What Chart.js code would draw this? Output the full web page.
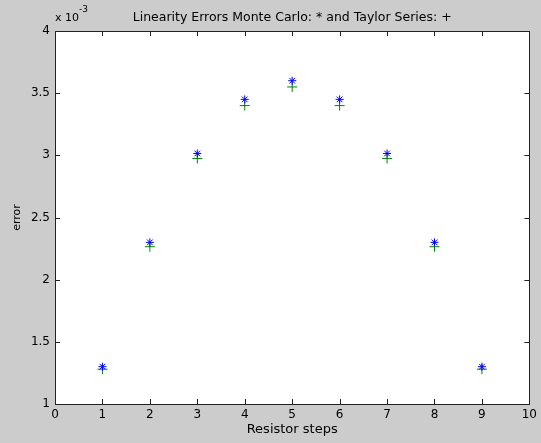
<!DOCTYPE html>
<html>
<head>
<meta charset="utf-8">
<script src="https://cdn.jsdelivr.net/npm/chart.js@4/dist/chart.umd.min.js"></script>
<style>
    html, body { margin: 0; padding: 0; background: #cccccc; }
    #grafico { display: block; }
</style>
</head>
<body>
<canvas id="grafico" width="541" height="443"></canvas>
<script>
// Passos do resistor (eixo x)
const passos = [1, 2, 3, 4, 5, 6, 7, 8, 9];
// Erros em unidades de 10^-3
const monteCarlo = [1.30, 2.30, 3.015, 3.45, 3.60, 3.45, 3.015, 2.30, 1.30];
const taylor = [1.28, 2.265, 2.975, 3.40, 3.55, 3.40, 2.975, 2.265, 1.28];
// Marcas dos eixos
const ticksX = [0, 1, 2, 3, 4, 5, 6, 7, 8, 9, 10];
const ticksY = [1, 1.5, 2, 2.5, 3, 3.5, 4];

const titulo = 'Linearity Errors Monte Carlo: * and Taylor Series: +';
const fonte = '"DejaVu Sans", Verdana, sans-serif';

// Fundo branco, moldura, marcas internas e textos extras
const moldura = {
    id: 'moldura',
    beforeDraw(chart) {
        const { ctx, chartArea: a } = chart;
        ctx.save();
        ctx.fillStyle = '#cccccc';
        ctx.fillRect(0, 0, chart.width, chart.height);
        ctx.fillStyle = '#ffffff';
        ctx.fillRect(a.left, a.top, a.right - a.left, a.bottom - a.top);
        ctx.restore();
    },
    beforeDatasetsDraw(chart) {
        const { ctx, chartArea: a, scales } = chart;
        const tam = 5;
        ctx.save();
        ctx.strokeStyle = '#222222';
        ctx.lineWidth = 1;
        ctx.beginPath();
        ticksX.forEach(v => {
            const x = Math.round(scales.x.getPixelForValue(v)) + 0.5;
            ctx.moveTo(x, a.bottom); ctx.lineTo(x, a.bottom - tam);
            ctx.moveTo(x, a.top); ctx.lineTo(x, a.top + tam);
        });
        ticksY.forEach(v => {
            const y = Math.round(scales.y.getPixelForValue(v)) + 0.5;
            ctx.moveTo(a.left, y); ctx.lineTo(a.left + tam, y);
            ctx.moveTo(a.right, y); ctx.lineTo(a.right - tam, y);
        });
        ctx.stroke();
        ctx.strokeRect(Math.round(a.left) + 0.5, Math.round(a.top) + 0.5,
            Math.round(a.right - a.left), Math.round(a.bottom - a.top));

        // titulo e expoente
        ctx.fillStyle = '#000000';
        ctx.textBaseline = 'alphabetic';
        ctx.textAlign = 'center';
        ctx.font = '12.5px ' + fonte;
        ctx.fillText(titulo, (a.left + a.right) / 2, 21);
        ctx.textAlign = 'left';
        ctx.font = '11px ' + fonte;
        ctx.fillText('x 10', 55, 21);
        ctx.font = '9px ' + fonte;
        ctx.fillText('-3', 79, 12);
        ctx.restore();
    }
};

function criarGrafico() {
    const ctx = document.getElementById('grafico').getContext('2d');
    Chart.defaults.color = '#000000';
    Chart.defaults.font.family = fonte;
    Chart.defaults.font.size = 12;

    window.meuGrafico = new Chart(ctx, {
        type: 'scatter',
        data: {
            datasets: [{
                label: 'Monte Carlo',
                data: passos.map((p, i) => ({ x: p, y: monteCarlo[i] })),
                pointStyle: 'star',
                pointRadius: 4,
                borderColor: '#0000ff',
                backgroundColor: '#0000ff',
                borderWidth: 1
            }, {
                label: 'Taylor Series',
                data: passos.map((p, i) => ({ x: p, y: taylor[i] })),
                pointStyle: 'cross',
                pointRadius: 5,
                borderColor: '#008000',
                backgroundColor: '#008000',
                borderWidth: 1
            }]
        },
        options: {
            responsive: false,
            animation: false,
            devicePixelRatio: 1,
            layout: { padding: { left: 0, right: 10, top: 31, bottom: 0 } },
            plugins: {
                legend: { display: false },
                tooltip: { enabled: false }
            },
            scales: {
                x: {
                    type: 'linear',
                    min: 0,
                    max: 10,
                    afterBuildTicks: s => { s.ticks = ticksX.map(v => ({ value: v })); },
                    afterFit: s => { s.height = 39; },
                    grid: { display: false, drawTicks: false },
                    border: { display: false },
                    ticks: { padding: 4, maxRotation: 0, callback: v => String(v) },
                    title: { display: true, text: 'Resistor steps', font: { size: 13 }, padding: { top: 0, bottom: 6 } }
                },
                y: {
                    type: 'linear',
                    min: 1,
                    max: 4,
                    afterBuildTicks: s => { s.ticks = ticksY.map(v => ({ value: v })); },
                    afterFit: s => { s.width = 55; },
                    grid: { display: false, drawTicks: false },
                    border: { display: false },
                    ticks: { padding: 5, callback: v => String(v) },
                    title: { display: true, text: 'error', font: { size: 11 }, padding: { top: 11, bottom: 0 } }
                }
            }
        },
        plugins: [moldura]
    });
}

window.addEventListener('DOMContentLoaded', criarGrafico);
</script>
</body>
</html>
